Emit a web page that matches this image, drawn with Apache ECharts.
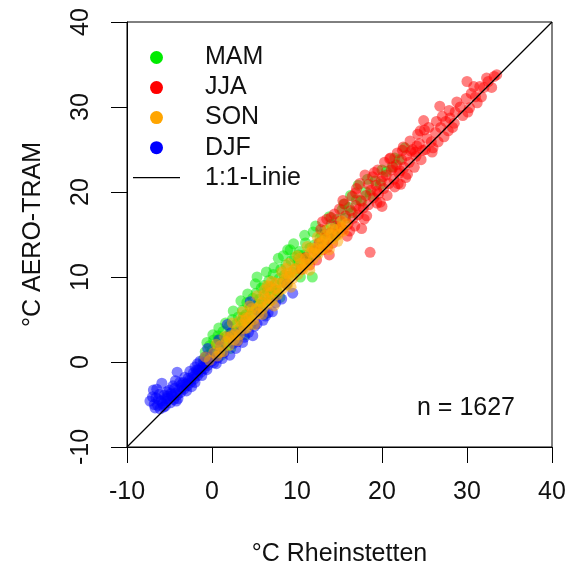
<!DOCTYPE html>
<html>
<head>
<meta charset="utf-8">
<script src="https://cdn.jsdelivr.net/npm/echarts@6/dist/echarts.min.js"></script>
<style>
html,body{margin:0;padding:0;background:#fff;}
#chart{width:566px;height:570px;}
</style>
</head>
<body>
<div id="chart"></div>
<script>
// Axis ticks
const xTicks = [-10, 0, 10, 20, 30, 40];
const yTicks = [-10, 0, 10, 20, 30, 40];
const seasonNames = ['MAM', 'JJA', 'SON', 'DJF'];
const lineName = '1:1-Linie';
const sampleSize = 1627;

// [°C Rheinstetten, °C AERO-TRAM]
const djfPoints = [
[-7.3,-4.6],[-7.0,-4.1],[-6.9,-3.3],[-6.8,-5.0],[-6.7,-5.4],[-6.6,-4.2],[-6.5,-3.2],[-6.4,-5.1],[-6.3,-4.4],[-6.2,-3.8],
[-6.1,-5.5],[-6.0,-4.6],[-5.9,-2.5],[-5.8,-4.9],[-5.7,-5.3],[-5.6,-3.9],[-5.5,-5.2],[-5.4,-4.3],[-5.3,-4.6],[-5.3,-3.5],
[-5.2,-4.0],[-5.1,-4.3],[-5.0,-3.3],[-4.9,-4.8],[-4.8,-3.7],[-4.7,-4.0],[-4.6,-2.8],[-4.5,-4.4],[-4.4,-3.1],[-4.3,-3.7],
[-4.3,-2.2],[-4.2,-4.6],[-4.1,-1.2],[-4.1,-3.9],[-4.0,-4.3],[-3.9,-3.3],[-3.8,-2.4],[-3.7,-3.6],[-3.6,-2.7],[-3.5,-3.0],
[-3.4,-2.4],[-3.3,-3.2],[-3.2,-1.8],[-3.1,-2.6],[-3.0,-3.4],[-2.9,-2.8],[-2.8,-1.9],[-2.7,-2.2],[-2.6,-1.1],[-2.5,-2.4],
[-2.4,-2.9],[-2.3,-1.8],[-2.2,-1.3],[-2.1,-2.0],[-2.0,-0.6],[-2.0,-2.4],[-1.9,-1.4],[-1.8,-0.9],[-1.7,-1.6],[-1.7,-0.2],
[-1.6,-0.9],[-1.5,-1.0],[-1.4,0.1],[-1.3,-1.2],[-1.2,-1.6],[-1.1,-0.6],[-1.0,-0.1],[-0.9,-0.8],[-0.8,0.6],[-0.7,-0.2],
[-0.6,-0.9],[-0.5,-0.4],[-0.5,1.6],[-0.3,0.2],[-0.2,0.6],[0.0,0.1],[0.2,-0.1],[0.3,1.0],[0.5,-0.2],[0.7,0.5],
[0.8,2.6],[1.0,1.8],[1.2,0.4],[1.4,1.1],[1.8,4.4],[2.1,0.8],[2.2,3.4],[2.5,2.2],[2.8,1.6],[3.0,2.4],
[3.4,3.6],[3.6,2.3],[3.8,2.9],[4.3,3.5],[4.5,7.1],[4.8,3.1],[5.0,4.2],[5.3,4.5],[5.5,5.9],[6.0,4.9],
[6.3,5.4],[6.6,5.8],[7.1,5.9],[7.5,7.0],[8.2,7.4],[8.8,9.2],[9.5,8.1]
];
const mamPoints = [
[-1.0,0.3],[-0.8,1.2],[-0.6,2.3],[-0.5,0.8],[-0.3,1.9],[0.0,1.4],[0.1,3.2],[0.2,2.6],[0.4,0.9],[0.5,2.0],
[0.7,3.1],[0.8,4.0],[0.9,1.6],[1.0,2.8],[1.1,0.8],[1.2,1.3],[1.3,3.6],[1.5,2.4],[1.6,4.6],[1.7,3.0],
[1.8,1.9],[2.0,4.2],[2.1,2.9],[2.2,1.6],[2.3,3.5],[2.4,5.0],[2.5,6.0],[2.6,3.1],[2.8,4.4],[2.9,2.7],
[3.0,3.6],[3.1,5.3],[3.3,4.0],[3.4,7.2],[3.5,4.8],[3.6,6.1],[3.7,5.3],[3.8,4.5],[3.9,3.2],[4.0,5.6],
[4.1,7.0],[4.2,8.0],[4.3,5.0],[4.5,6.4],[4.6,4.4],[4.7,5.6],[4.8,7.5],[5.0,6.2],[5.1,9.2],[5.2,8.1],
[5.3,10.0],[5.4,6.8],[5.6,7.4],[5.7,6.1],[5.8,8.7],[6.0,7.0],[6.1,9.0],[6.2,5.6],[6.3,7.8],[6.4,10.6],
[6.5,8.4],[6.7,9.6],[6.8,7.2],[6.9,7.9],[7.0,8.8],[7.2,10.3],[7.3,11.1],[7.4,9.1],[7.6,8.4],[7.7,8.2],
[7.8,12.2],[7.9,9.8],[8.0,7.6],[8.1,10.9],[8.3,9.4],[8.4,12.5],[8.5,10.2],[8.7,11.4],[8.8,9.1],[8.9,13.2],
[9.0,10.1],[9.2,13.2],[9.3,11.9],[9.5,10.6],[9.6,13.9],[9.7,12.3],[9.9,11.0],[10.1,11.8],[10.2,12.6],[10.3,13.0],
[10.4,10.0],[10.5,11.5],[10.8,12.6],[10.9,14.9],[11.0,14.0],[11.2,12.1],[11.4,11.9],[11.5,13.4],[11.8,10.0],[11.9,15.3],
[12.1,13.8],[12.2,16.0],[12.4,12.9],[12.7,14.6],[12.9,15.0],[13.0,13.7],[13.3,15.5],[13.6,14.4],[13.8,17.1],[14.0,16.2],
[14.3,15.1],[14.5,14.8],[14.7,16.8],[15.0,15.8],[15.3,17.9],[15.5,18.6],[15.7,16.9],[16.1,18.2],[16.3,19.6],[16.5,17.6],
[17.0,19.1],[17.2,20.8],[17.6,18.9],[18.1,20.0],[18.3,21.5],[18.6,19.7],[19.2,21.3],[19.8,20.9],[20.0,22.6],[20.5,22.4],
[21.2,23.0],[21.5,24.0],[22.0,23.8],[22.7,25.2]
];
const jjaPoints = [
[10.5,10.9],[11.0,12.3],[11.5,11.4],[12.0,13.1],[12.3,12.0],[12.6,14.0],[12.8,15.6],[13.0,13.2],[13.0,16.5],[13.3,14.6],
[13.5,16.8],[13.6,13.5],[13.8,12.6],[13.9,15.2],[14.0,17.0],[14.2,14.0],[14.4,17.4],[14.5,16.0],[14.8,15.1],[15.0,18.0],
[15.1,16.6],[15.2,15.8],[15.4,19.0],[15.4,15.6],[15.6,18.6],[15.7,17.2],[15.9,14.8],[16.0,16.2],[16.2,15.4],[16.3,17.8],
[16.5,19.5],[16.6,16.9],[16.8,16.0],[16.9,18.4],[16.9,19.9],[17.0,20.4],[17.2,17.3],[17.3,18.0],[17.4,21.0],[17.5,19.0],
[17.6,15.7],[17.8,18.1],[17.9,16.8],[18.0,22.0],[18.1,19.6],[18.2,17.2],[18.4,18.5],[18.4,20.9],[18.6,12.9],[18.7,20.2],
[18.9,21.8],[19.0,19.3],[19.1,22.3],[19.3,20.8],[19.4,18.7],[19.4,20.1],[19.5,22.6],[19.6,19.8],[19.8,18.8],[19.9,21.3],
[20.0,18.3],[20.1,21.8],[20.2,20.4],[20.3,23.5],[20.5,22.0],[20.6,19.6],[20.8,21.0],[20.9,23.9],[21.0,24.0],[21.1,22.6],
[21.3,22.9],[21.4,21.5],[21.5,20.6],[21.7,23.2],[21.8,24.6],[21.9,21.0],[22.0,22.2],[22.1,22.5],[22.2,20.9],[22.3,23.8],
[22.4,24.9],[22.5,25.3],[22.6,22.9],[22.8,21.7],[22.9,24.3],[23.0,22.1],[23.2,23.5],[23.3,26.0],[23.4,24.8],[23.6,25.0],
[23.8,22.9],[23.9,24.7],[24.0,24.2],[24.1,25.4],[24.2,26.8],[24.4,25.7],[24.5,27.2],[24.6,23.8],[24.8,24.9],[24.9,28.4],
[25.0,27.3],[25.1,25.0],[25.3,26.3],[25.5,27.6],[25.8,25.9],[25.9,24.7],[26.0,25.2],[26.3,27.0],[26.4,28.3],[26.6,25.9],
[26.8,30.1],[26.9,27.6],[27.1,28.9],[27.3,26.5],[27.5,28.3],[27.8,27.2],[27.9,29.6],[28.0,28.7],[28.3,27.6],[28.5,28.1],
[28.6,29.4],[28.8,30.6],[29.2,30.0],[29.5,29.0],[29.9,31.0],[30.0,33.0],[30.1,29.4],[30.3,29.9],[30.5,31.6],[30.8,32.4],
[31.0,31.2],[31.2,30.5],[31.5,32.4],[31.7,31.2],[32.0,32.3],[32.3,33.4],[32.5,33.0],[32.9,32.3],[33.2,33.6],[33.5,33.8]
];
const sonPoints = [
[-0.8,0.6],[-0.3,0.2],[0.2,1.1],[0.5,2.1],[0.6,0.7],[0.9,1.1],[1.0,1.9],[1.3,1.2],[1.5,3.0],[1.7,2.4],
[1.9,2.9],[2.0,1.9],[2.3,3.1],[2.4,4.6],[2.6,2.6],[2.7,3.3],[2.9,3.8],[3.0,2.5],[3.2,3.2],[3.3,4.9],
[3.5,4.4],[3.6,5.9],[3.8,3.9],[3.9,4.9],[4.0,5.2],[4.1,4.0],[4.3,4.5],[4.4,6.6],[4.4,5.3],[4.6,5.6],
[4.7,6.3],[4.9,5.0],[5.0,4.4],[5.2,6.3],[5.3,7.8],[5.5,5.7],[5.6,6.6],[5.8,7.0],[5.9,5.6],[6.0,6.3],
[6.1,7.9],[6.2,8.5],[6.3,7.4],[6.5,9.0],[6.6,6.8],[6.7,7.5],[6.8,8.9],[6.9,8.2],[7.0,9.5],[7.1,7.3],
[7.3,6.6],[7.4,8.6],[7.5,9.3],[7.7,7.9],[7.9,8.4],[8.0,9.3],[8.2,10.6],[8.3,8.6],[8.5,9.4],[8.6,9.8],
[8.7,11.0],[8.8,10.4],[8.9,9.1],[9.0,11.6],[9.1,10.0],[9.2,10.5],[9.3,8.8],[9.5,9.8],[9.7,10.9],[9.8,11.0],
[10.0,12.5],[10.1,10.3],[10.3,12.2],[10.4,11.6],[10.6,11.1],[10.7,10.9],[10.9,11.6],[11.0,12.2],[11.2,13.6],[11.3,11.5],
[11.5,10.8],[11.6,12.9],[11.8,13.4],[11.9,12.1],[12.0,12.8],[12.2,13.4],[12.4,14.7],[12.5,12.7],[12.7,13.2],[12.8,14.0],
[13.0,14.2],[13.1,13.3],[13.3,14.9],[13.4,14.5],[13.6,15.6],[13.7,13.9],[13.8,13.2],[14.0,15.0],[14.2,15.7],[14.3,14.5],
[14.6,15.6],[14.8,14.2],[14.9,15.0],[15.2,15.9],[15.3,16.6],[15.5,15.4],[15.8,16.3]
];
const identityLine = [[-10,-10],[40,40]];

const FONT = '"Liberation Sans", Arial, Helvetica, sans-serif';
const chart = echarts.init(document.getElementById('chart'), null, {renderer:'canvas'});

function scatter(name, data, color) {
  return {
    name: name, type: 'scatter', data: data, symbol: 'circle', symbolSize: 11,
    itemStyle: {color: color, opacity: 0.5}, z: 2
  };
}

const axisCommon = {
  type: 'value', min: xTicks[0], max: xTicks[xTicks.length-1], interval: 10,
  axisLine: {show: true, onZero: false, lineStyle: {color: '#000', width: 1}},
  axisTick: {show: true, length: 16, lineStyle: {color: '#000', width: 1}},
  splitLine: {show: false},
  nameLocation: 'middle',
  nameTextStyle: {fontFamily: FONT, fontSize: 25, color: '#111'}
};

chart.setOption({
  animation: false,
  backgroundColor: '#fff',
  grid: {left: 127, right: 14, top: 22, bottom: 123, show: true, borderColor: '#000', borderWidth: 1,
         containLabel: false, outerBoundsMode: 'none'},
  xAxis: Object.assign({}, axisCommon, {
    name: '°C Rheinstetten', nameGap: 95,
    axisLabel: {margin: 33, fontFamily: FONT, fontSize: 25, color: '#111'}
  }),
  yAxis: Object.assign({}, axisCommon, {
    min: yTicks[0], max: yTicks[yTicks.length-1],
    name: '°C AERO-TRAM', nameGap: 81,
    axisLabel: {margin: 33, rotate: 90, fontFamily: FONT, fontSize: 25, color: '#111'}
  }),
  legend: {
    orient: 'vertical', left: 128, top: 40, itemWidth: 47, itemHeight: 13, itemGap: 5.05,
    data: seasonNames.map(function (n) { return {name: n}; }).concat([
      {name: lineName, icon: 'path://M0,0 H47 V1.2 H0 Z'}
    ]),
    itemStyle: {opacity: 1},
    textStyle: {fontFamily: FONT, fontSize: 25, color: '#111', padding: [0,0,0,20]},
    selectedMode: false
  },
  series: [
    scatter('MAM', mamPoints, 'rgb(0,235,0)'),
    scatter('DJF', djfPoints, 'rgb(0,0,255)'),
    scatter('JJA', jjaPoints, 'rgb(255,0,0)'),
    scatter('SON', sonPoints, 'rgb(255,165,0)'),
    {
      name: lineName, type: 'line', data: identityLine, symbol: 'none',
      itemStyle: {color: '#000'},
      lineStyle: {color: '#000', width: 1.2}, z: 5, silent: true
    }
  ],
  graphic: [{
    type: 'text', left: 417, top: 396,
    style: {text: 'n = ' + sampleSize, font: '25px ' + FONT, fill: '#111'}
  }]
});
</script>
</body>
</html>
